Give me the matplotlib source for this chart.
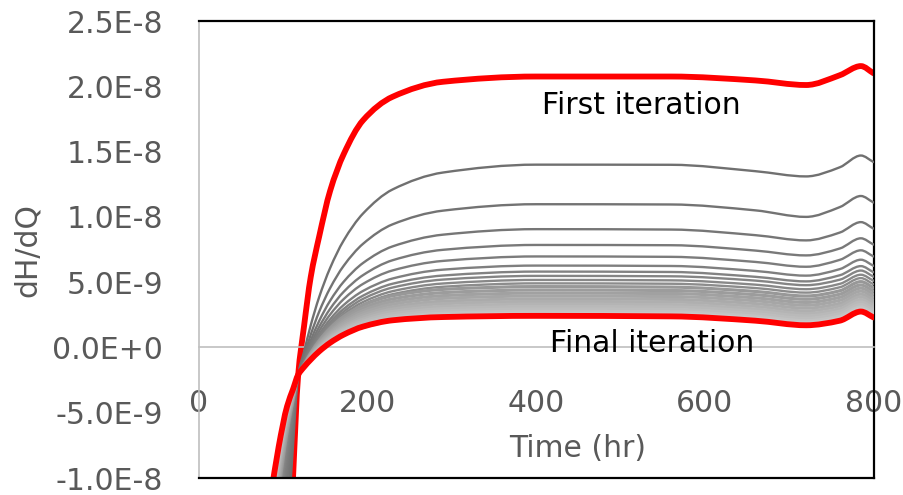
import numpy as np
import matplotlib
matplotlib.use("Agg")
import matplotlib.pyplot as plt
from matplotlib.path import Path
from matplotlib.patches import PathPatch
from matplotlib.ticker import FuncFormatter, MultipleLocator

# sample times (hr); curve values below are in units of 1E-9
TIME_HR = [85, 95, 105, 112, 118, 125, 133, 143, 156, 172, 195, 230, 290,
           400, 560, 660, 720, 760, 785, 800]

FIRST_ITER = [-60.0, -36.0, -20.5, -10.0, -2.2, 1.6, 5.4, 8.5, 12.0, 14.8,
              17.4, 19.2, 20.35, 20.75, 20.75, 20.45, 20.1, 20.85, 21.55, 21.0]

FINAL_ITER = [-11.6, -7.6, -4.5, -3.2, -2.1, -1.5, -0.93, -0.3, 0.36, 0.98,
              1.6, 2.08, 2.33, 2.42, 2.38, 2.05, 1.7, 2.05, 2.75, 2.3]

# intermediate iterations, top to bottom
GRAY_ITERS = [
    [-42.2, -25.5, -14.6, -7.5, -2.16, -0.35, 1.70, 3.86, 6.09, 8.19, 10.26, 12.10, 13.40, 14.00, 13.99, 13.50, 13.10, 13.80, 14.70, 14.20],
    [-34.2, -20.9, -12.0, -6.37, -2.15, -0.68, 0.98, 2.74, 4.55, 6.25, 7.94, 9.43, 10.48, 10.97, 10.95, 10.50, 10.00, 10.75, 11.60, 11.10],
    [-29.1, -17.9, -10.3, -5.66, -2.14, -0.88, 0.53, 2.03, 3.58, 5.03, 6.47, 7.74, 8.64, 9.06, 9.03, 8.60, 8.20, 8.80, 9.60, 9.10],
    [-26.0, -16.0, -9.24, -5.22, -2.13, -1.02, 0.25, 1.58, 2.96, 4.26, 5.54, 6.68, 7.48, 7.85, 7.83, 7.42, 7.05, 7.58, 8.36, 7.88],
    [-23.6, -14.6, -8.47, -4.89, -2.12, -1.11, 0.04, 1.26, 2.52, 3.70, 4.87, 5.90, 6.63, 6.97, 6.94, 6.55, 6.18, 6.71, 7.44, 6.97],
    [-21.8, -13.6, -7.86, -4.63, -2.12, -1.19, -0.12, 1.00, 2.16, 3.25, 4.33, 5.28, 5.96, 6.27, 6.24, 5.86, 5.50, 6.00, 6.72, 6.25],
    [-20.6, -12.9, -7.46, -4.46, -2.12, -1.24, -0.23, 0.83, 1.93, 2.95, 3.97, 4.88, 5.51, 5.81, 5.78, 5.41, 5.06, 5.53, 6.23, 5.76],
    [-19.7, -12.3, -7.17, -4.34, -2.12, -1.27, -0.31, 0.70, 1.76, 2.74, 3.72, 4.59, 5.20, 5.48, 5.45, 5.12, 4.77, 5.19, 5.89, 5.42],
    [-18.9, -11.9, -6.90, -4.22, -2.12, -1.31, -0.38, 0.59, 1.60, 2.55, 3.48, 4.31, 4.90, 5.17, 5.14, 4.81, 4.46, 4.87, 5.57, 5.11],
    [-18.2, -11.5, -6.68, -4.12, -2.11, -1.34, -0.45, 0.49, 1.47, 2.38, 3.28, 4.08, 4.65, 4.91, 4.88, 4.55, 4.20, 4.61, 5.31, 4.84],
    [-17.5, -11.06, -6.45, -4.03, -2.11, -1.32, -0.42, 0.52, 1.48, 2.37, 3.23, 3.96, 4.45, 4.66, 4.62, 4.29, 3.94, 4.34, 5.04, 4.58],
    [-16.8, -10.67, -6.23, -3.93, -2.11, -1.35, -0.48, 0.42, 1.34, 2.20, 3.02, 3.72, 4.20, 4.40, 4.36, 4.04, 3.69, 4.08, 4.78, 4.32],
    [-16.2, -10.30, -6.02, -3.85, -2.11, -1.38, -0.54, 0.32, 1.22, 2.04, 2.83, 3.51, 3.97, 4.16, 4.13, 3.80, 3.45, 3.84, 4.54, 4.08],
    [-15.6, -9.96, -5.83, -3.76, -2.11, -1.41, -0.60, 0.24, 1.10, 1.89, 2.66, 3.31, 3.76, 3.94, 3.90, 3.58, 3.23, 3.61, 4.31, 3.85],
    [-15.0, -9.62, -5.64, -3.68, -2.11, -1.43, -0.65, 0.15, 0.98, 1.75, 2.49, 3.11, 3.54, 3.72, 3.68, 3.36, 3.01, 3.38, 4.08, 3.63],
    [-14.5, -9.30, -5.46, -3.61, -2.11, -1.45, -0.70, 0.07, 0.88, 1.61, 2.33, 2.94, 3.35, 3.52, 3.48, 3.15, 2.80, 3.18, 3.88, 3.42],
    [-14.0, -8.99, -5.28, -3.53, -2.10, -1.48, -0.75, 0.00, 0.77, 1.48, 2.17, 2.76, 3.15, 3.32, 3.28, 2.95, 2.60, 2.97, 3.67, 3.22],
    [-13.5, -8.71, -5.12, -3.47, -2.10, -1.50, -0.80, -0.08, 0.67, 1.36, 2.02, 2.59, 2.97, 3.13, 3.10, 2.77, 2.42, 2.78, 3.48, 3.03],
    [-13.0, -8.42, -4.96, -3.40, -2.10, -1.52, -0.84, -0.15, 0.58, 1.24, 1.88, 2.42, 2.80, 2.95, 2.91, 2.58, 2.23, 2.60, 3.30, 2.84],
    [-12.5, -8.14, -4.80, -3.33, -2.10, -1.54, -0.89, -0.22, 0.48, 1.12, 1.74, 2.26, 2.62, 2.77, 2.73, 2.40, 2.05, 2.41, 3.11, 2.66],
    [-12.1, -7.91, -4.67, -3.28, -2.10, -1.56, -0.92, -0.27, 0.41, 1.03, 1.63, 2.14, 2.49, 2.63, 2.59, 2.26, 1.91, 2.27, 2.97, 2.51],
    [-11.8, -7.74, -4.58, -3.23, -2.10, -1.57, -0.95, -0.32, 0.34, 0.95, 1.53, 2.03, 2.37, 2.51, 2.47, 2.14, 1.79, 2.15, 2.85, 2.39],
]

UNIT = 1e-9
X_MIN, X_MAX = 0, 800
Y_MIN, Y_MAX = -1e-8, 2.5e-8

TEXT_GREY = "#595959"
AXIS_GREY = "#bfbfbf"
RED = "#ff0000"
FONT = 21.5


def pchip_slopes(x, y):
    h = np.diff(x)
    d = np.diff(y) / h
    m = np.empty_like(y)
    m[0], m[-1] = d[0], d[-1]
    for k in range(1, len(y) - 1):
        if d[k - 1] * d[k] <= 0:
            m[k] = 0.0
        else:
            w1 = 2 * h[k] + h[k - 1]
            w2 = h[k] + 2 * h[k - 1]
            m[k] = (w1 + w2) / (w1 / d[k - 1] + w2 / d[k])
    return m


def smooth_path(x, y):
    """Monotone cubic through the points, as a Bezier path (smoothed line)."""
    x = np.asarray(x, float)
    y = np.asarray(y, float)
    m = pchip_slopes(x, y)
    verts = [(x[0], y[0])]
    codes = [Path.MOVETO]
    for i in range(len(x) - 1):
        h = x[i + 1] - x[i]
        verts += [(x[i] + h / 3, y[i] + m[i] * h / 3),
                  (x[i + 1] - h / 3, y[i + 1] - m[i + 1] * h / 3),
                  (x[i + 1], y[i + 1])]
        codes += [Path.CURVE4] * 3
    return Path(verts, codes)


def draw_curve(ax, values, color, lw, z):
    path = smooth_path(TIME_HR, np.asarray(values) * UNIT)
    ax.add_patch(PathPatch(path, fill=False, edgecolor=color, lw=lw,
                           capstyle="round", joinstyle="round", zorder=z))


def sci_label(v, pos):
    if abs(v) < 1e-20:
        return "0.0E+0"
    exp = int(np.floor(np.log10(abs(v)) + 1e-9))
    return f"{v / 10 ** exp:.1f}E{exp:+d}"


plt.rcParams["font.family"] = ["DejaVu Sans"]

fig = plt.figure(figsize=(9.04, 4.95), dpi=100)
ax = fig.add_axes([0.2196, 0.0343, 0.7467, 0.9232])

# series order: first iteration, the intermediate ones, final on top
draw_curve(ax, FIRST_ITER, RED, 4.2, 2)

# grey iterations get lighter as they converge
n_sharp = 10
n_band = len(GRAY_ITERS) - n_sharp
sharp_cols = np.linspace(0x70, 0x8c, n_sharp)
band_cols = np.linspace(0x98, 0xcc, n_band)
for i, row in enumerate(GRAY_ITERS):
    if i < n_sharp:
        g = int(sharp_cols[i])
        lw = 1.7
    else:
        g = int(band_cols[i - n_sharp])
        lw = 2.3
    draw_curve(ax, row, f"#{g:02x}{g:02x}{g:02x}", lw, 3)

draw_curve(ax, FINAL_ITER, RED, 4.2, 4)

ax.set_xlim(X_MIN, X_MAX)
ax.set_ylim(Y_MIN, Y_MAX)
ax.xaxis.set_major_locator(MultipleLocator(200))
ax.yaxis.set_major_locator(MultipleLocator(5e-9))
ax.yaxis.set_major_formatter(FuncFormatter(sci_label))

# value axis crosses at zero, frame on the other sides
ax.spines["bottom"].set_position(("data", 0))
ax.spines["bottom"].set_color(AXIS_GREY)
ax.spines["bottom"].set_linewidth(1.2)
ax.spines["left"].set_color(AXIS_GREY)
ax.spines["left"].set_linewidth(1.2)
for side in ("top", "right"):
    ax.spines[side].set_color("black")
    ax.spines[side].set_linewidth(1.6)
ax.axhline(Y_MIN, color="black", lw=1.6, zorder=5, clip_on=False)

ax.tick_params(axis="x", length=0, pad=30, labelsize=FONT, labelcolor=TEXT_GREY)
ax.tick_params(axis="y", length=0, pad=25.5, labelsize=FONT, labelcolor=TEXT_GREY)

ax.set_xlabel("Time (hr)", fontsize=FONT, color=TEXT_GREY)
ax.xaxis.set_label_coords(0.5615, 0.096)
ax.set_ylabel("dH/dQ", fontsize=FONT, color=TEXT_GREY)
ax.yaxis.set_label_coords(-0.232, 0.499)

ax.text(525, 17.87e-9, "First iteration", ha="center", va="baseline",
        fontsize=FONT, color="black", zorder=6)
ax.text(538, -0.35e-9, "Final iteration", ha="center", va="baseline",
        fontsize=FONT, color="black", zorder=6)

fig.savefig("out.png", dpi=100)
